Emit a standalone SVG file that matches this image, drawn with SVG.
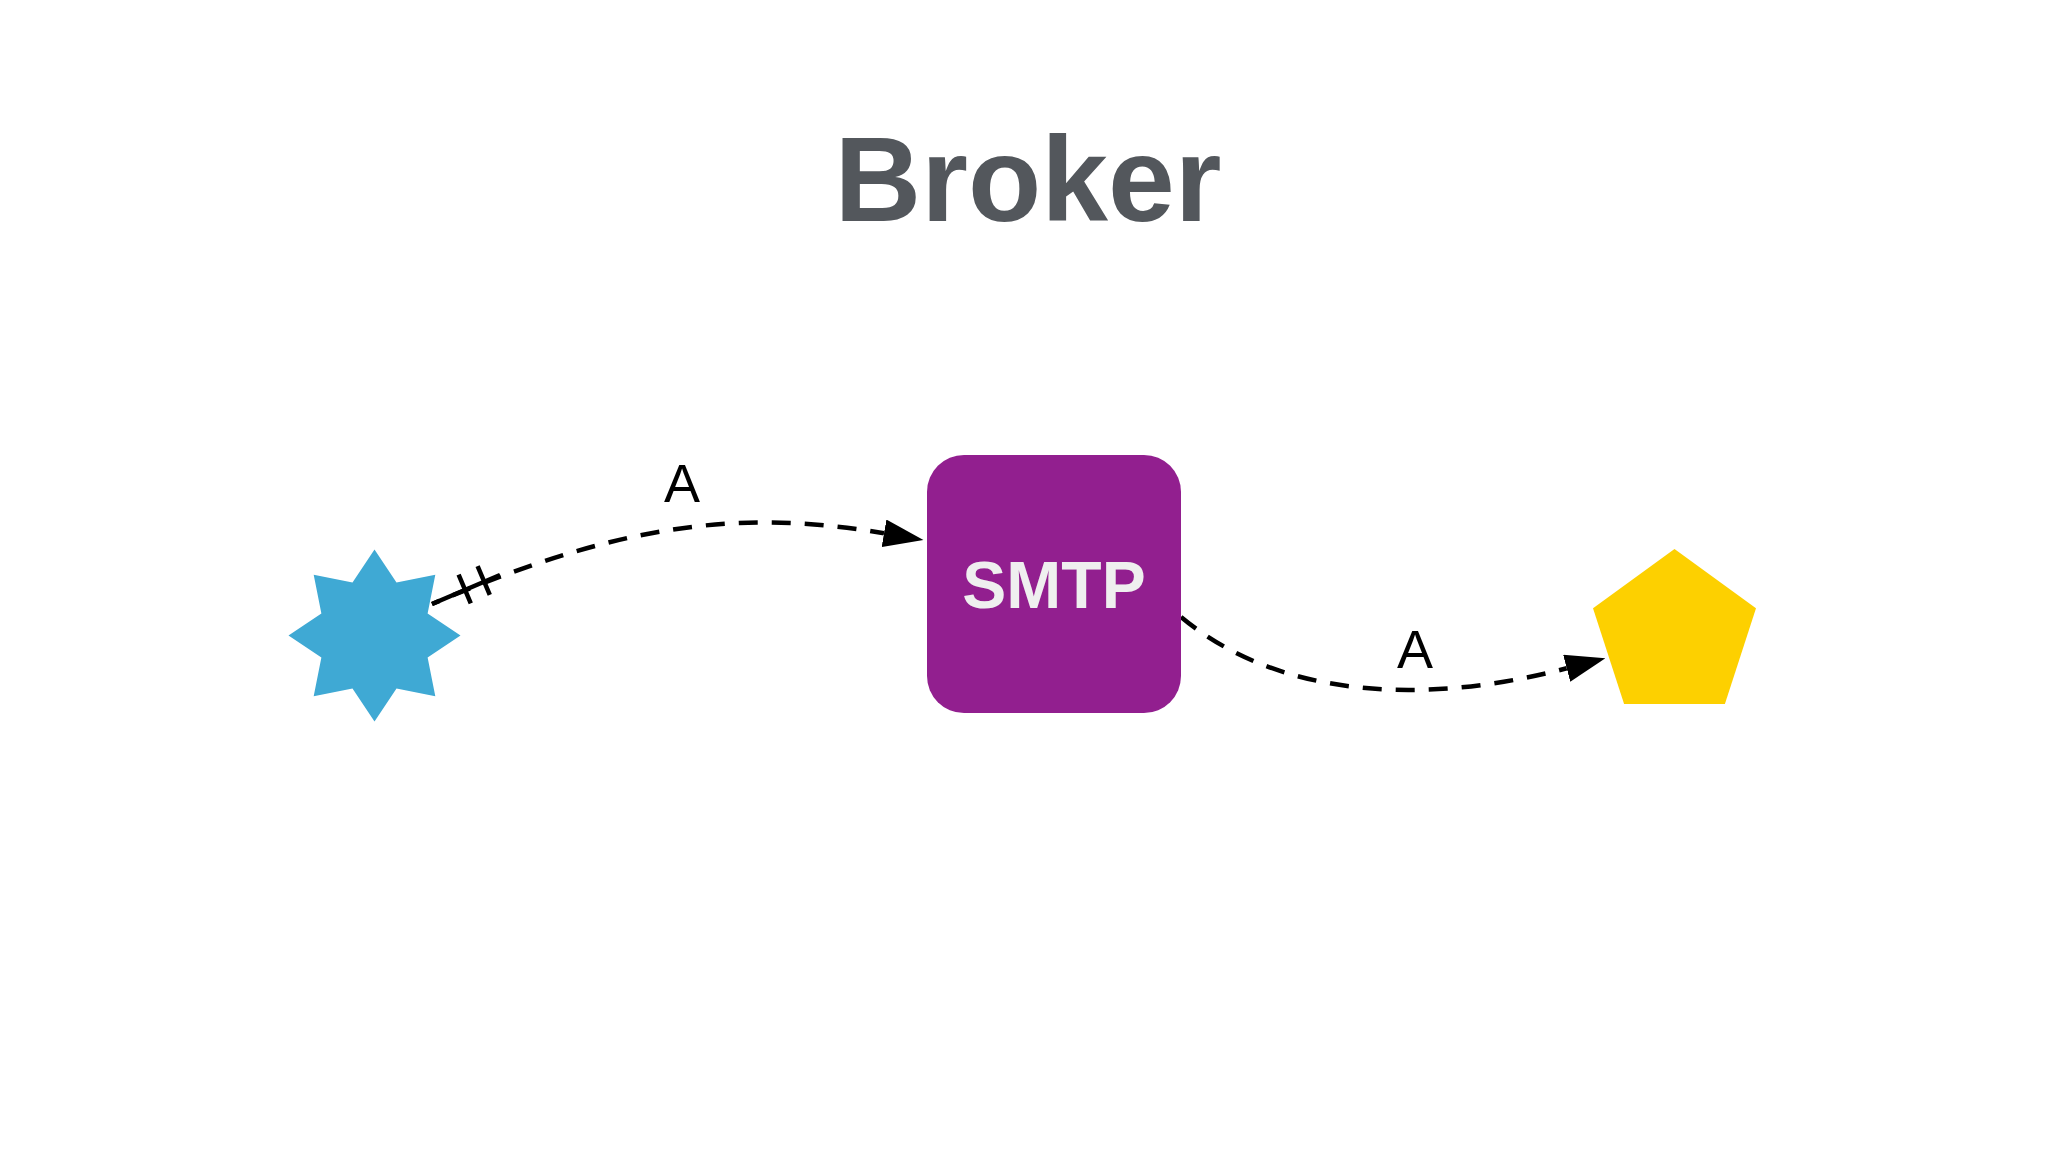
<svg xmlns="http://www.w3.org/2000/svg" width="2048" height="1152" viewBox="0 0 2048 1152">
  <style>
    .title { font-family: "Liberation Sans", Arial, Helvetica, sans-serif; font-weight: bold; font-size: 120px; fill: #53575c; text-anchor: middle; }
    .nodelabel { font-family: "Liberation Sans", Arial, Helvetica, sans-serif; font-weight: bold; font-size: 66px; fill: #efefef; text-anchor: middle; }
    .edgelabel { font-family: "Liberation Sans", Arial, Helvetica, sans-serif; font-size: 54px; fill: #000000; text-anchor: middle; }
    .edge { fill: none; stroke: #000000; stroke-width: 4.5; stroke-dasharray: 19 14; }
    .solid { fill: none; stroke: #000000; stroke-width: 4.5; }
  </style>
  <defs>
    <marker id="arrow" markerUnits="userSpaceOnUse" markerWidth="40" markerHeight="28" refX="0" refY="14" orient="auto">
      <path d="M0,0 L40,14 L0,28 z" fill="#000000"/>
    </marker>
  </defs>
  <rect x="0" y="0" width="2048" height="1152" fill="#ffffff"/>
  <text class="title" x="1028" y="221">Broker</text>

  <g id="connectors">
    <g id="edge-star-smtp">
      <path class="edge" stroke-dashoffset="11" d="M432,604 C616,525.6 736,507.9 884,533.3" marker-end="url(#arrow)"/>
      <path class="solid" d="M432,604 L500,575"/>
      <path class="solid" d="M458.6,574.7 L470.8,603.3 M477.6,566.2 L489.8,594.8"/>
      <text class="edgelabel" x="682" y="502">A</text>
    </g>
    <g id="edge-smtp-pentagon">
      <path class="edge" d="M1181,617 C1285,703.4 1436,702.5 1566.7,668.3" marker-end="url(#arrow)"/>
      <text class="edgelabel" x="1415" y="668">A</text>
    </g>
  </g>

  <g id="node-star">
    <polygon fill="#3fa9d4" points="374.5,549.5 396.5,582.38 435.31,574.69 427.62,613.5 460.5,635.5 427.62,657.5 435.31,696.31 396.5,688.62 374.5,721.5 352.5,688.62 313.69,696.31 321.38,657.5 288.5,635.5 321.38,613.5 313.69,574.69 352.5,582.38"/>
  </g>

  <g id="node-smtp">
    <rect x="927" y="455" width="254" height="258" rx="37" ry="37" fill="#921f8f"/>
    <text class="nodelabel" x="1054" y="608">SMTP</text>
  </g>

  <g id="node-pentagon">
    <polygon fill="#fdd000" points="1674.5,549 1756,608.2 1724.9,704 1624.1,704 1593,608.2"/>
  </g>
</svg>
